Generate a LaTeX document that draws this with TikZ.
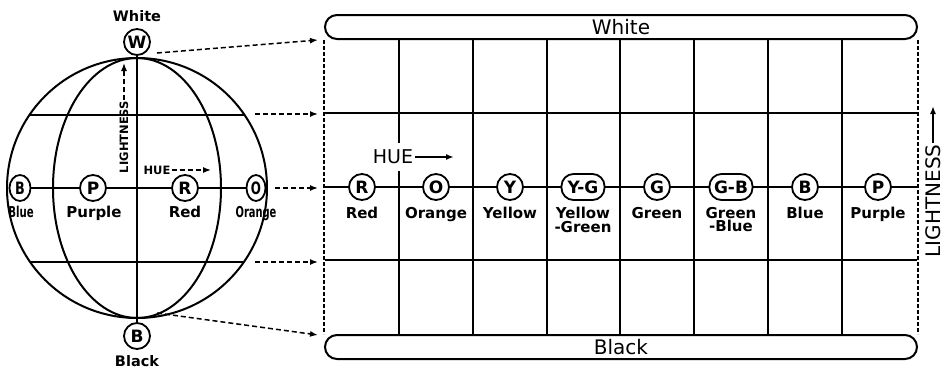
\documentclass[tikz,border=0pt]{standalone}
\usepackage{fontspec}
\setmainfont{DejaVu Sans}
\usetikzlibrary{arrows.meta,shapes.geometric}
\tikzset{
  gline/.style={line width=2pt},
  edgeline/.style={line width=1.4pt, dash pattern=on 4pt off 2pt},
  dasharrow/.style={-{Latex[length=8pt,width=6pt]}, line width=1.5pt, dash pattern=on 5pt off 3pt},
  flowarrow/.style={-{Latex[length=8pt,width=6pt]}, line width=1.6pt},
  ball/.style={draw, circle, line width=1.8pt, fill=white, minimum size=26pt, inner sep=0pt, font=\bfseries\fontsize{17}{17}\selectfont},
  narrowball/.style={draw, ellipse, line width=1.8pt, fill=white, minimum width=21pt, minimum height=26pt, inner sep=0pt, font=\bfseries\fontsize{17}{17}\selectfont},
  pill/.style={draw, rounded corners=12pt, line width=1.8pt, fill=white, minimum height=26pt, minimum width=43pt, inner sep=1pt, font=\bfseries\fontsize{17}{17}\selectfont},
  huename/.style={anchor=north, inner sep=0pt, align=center, font=\bfseries\fontsize{15}{13.5}\selectfont},
  polename/.style={inner sep=0pt, font=\bfseries\fontsize{14.5}{14.5}\selectfont},
  smalltag/.style={inner sep=1pt, font=\bfseries\fontsize{11.5}{11.5}\selectfont},
  barbox/.style={draw, rounded corners=12pt, line width=2pt, minimum width=592pt, minimum height=24pt, inner sep=0pt, font=\fontsize{20}{20}\selectfont}
}
\begin{document}
\begin{tikzpicture}[x=1pt, y=-1pt]
  \useasboundingbox (0,0) rectangle (946,370);
  \draw[gline] (137,188) circle[radius=130];
  \draw[gline] (137,188) ellipse[x radius=84, y radius=130];
  \begin{scope}
    \clip (137,188) circle[radius=130];
    \draw[gline] (0,115) -- (300,115);
    \draw[gline] (0,262) -- (300,262);
  \end{scope}
  \node[ball] (wt) at (137,42) {W};
  \node[polename] (wtname) at (137,16) {White};
  \node[ball] (bk) at (137,336) {B};
  \node[polename] (bkname) at (137,361) {Black};
  \draw[gline] (wt) -- (bk);
  \node[narrowball] (sb) at (20,188) {\scalebox{0.75}[1]{B}};
  \node[ball] (sp) at (93,188) {P};
  \node[ball] (sr) at (185,188) {R};
  \node[narrowball, minimum width=19pt] (so) at (256,188) {\scalebox{0.7}[1]{O}};
  \draw[gline] (sb) -- (sp) -- (sr) -- (so);
  \node[huename] (sbname) at (21,206) {\scalebox{0.68}[1]{Blue}};
  \node[huename] (spname) at (94,206) {Purple};
  \node[huename] (srname) at (185,206) {Red};
  \node[huename] (soname) at (256,206) {\scalebox{0.66}[1]{Orange}};
  \node[smalltag, rotate=90] (slight) at (124,137) {LIGHTNESS};
  \coordinate (slighttip) at (124,63);
  \draw[dasharrow, line width=1.3pt] (slight.east) -- (slighttip);
  \node[smalltag] (shue) at (157,170) {HUE};
  \coordinate (shuetip) at (211,170);
  \draw[dasharrow, line width=1.3pt] (shue) -- (shuetip);

  \node[barbox] (white) at (621,27) {White};
  \node[barbox] (black) at (621,347) {Black};
  \draw[edgeline] (white.south west) -- (black.north west);
  \draw[edgeline] (white.south east) -- (black.north east);
  \draw[gline] (325,113) -- (917,113);
  \draw[gline] (325,187) -- (917,187);
  \draw[gline] (325,260) -- (917,260);
  \draw[gline] (399,39) -- (399,335);
  \draw[gline] (473,39) -- (473,335);
  \draw[gline] (547,39) -- (547,335);
  \draw[gline] (620,39) -- (620,335);
  \draw[gline] (694,39) -- (694,335);
  \draw[gline] (768,39) -- (768,335);
  \draw[gline] (842,39) -- (842,335);
  \node[ball] (gr) at (362,187) {R};
  \node[ball] (go) at (436,187) {O};
  \node[ball] (gy) at (510,187) {Y};
  \node[pill] (gyg) at (583,187) {Y-G};
  \node[ball] (gg) at (657,187) {G};
  \node[pill] (ggb) at (731,187) {G-B};
  \node[ball] (gb) at (805,187) {B};
  \node[ball] (gp) at (878,187) {P};
  \node[huename] (grname) at (362,207) {Red};
  \node[huename] (goname) at (436,207) {Orange};
  \node[huename] (gyname) at (510,207) {Yellow};
  \node[huename] (gygname) at (583,207) {Yellow\\-Green};
  \node[huename] (ggname) at (657,207) {Green};
  \node[huename] (ggbname) at (731,207) {Green\\-Blue};
  \node[huename] (gbname) at (805,207) {Blue};
  \node[huename] (gpname) at (878,207) {Purple};
  \node[fill=white, inner xsep=2pt, inner ysep=7pt, font=\fontsize{19}{19}\selectfont] (ghue) at (393,157) {HUE};
  \coordinate (ghuetip) at (454,157);
  \draw[flowarrow] (ghue) -- (ghuetip);
  \node[rotate=90, inner sep=1pt, font=\fontsize{20}{20}\selectfont] (glight) at (933,201) {LIGHTNESS};
  \coordinate (glighttip) at (933,106);
  \draw[flowarrow] (glight) -- (glighttip);

  \coordinate (s1) at (157,53);
  \coordinate (s2) at (255,114);
  \coordinate (s4) at (255,262);
  \coordinate (s5) at (157,313);
  \coordinate (e1) at (318,40);
  \coordinate (e2) at (318,114);
  \coordinate (e3) at (318,188);
  \coordinate (e4) at (318,262);
  \coordinate (e5) at (318,335);
  \draw[dasharrow] (s1) -- (e1);
  \draw[dasharrow] (s2) -- (e2);
  \draw[dasharrow, shorten <=9pt] (so) -- (e3);
  \draw[dasharrow] (s4) -- (e4);
  \draw[dasharrow] (s5) -- (e5);
\end{tikzpicture}
\end{document}
